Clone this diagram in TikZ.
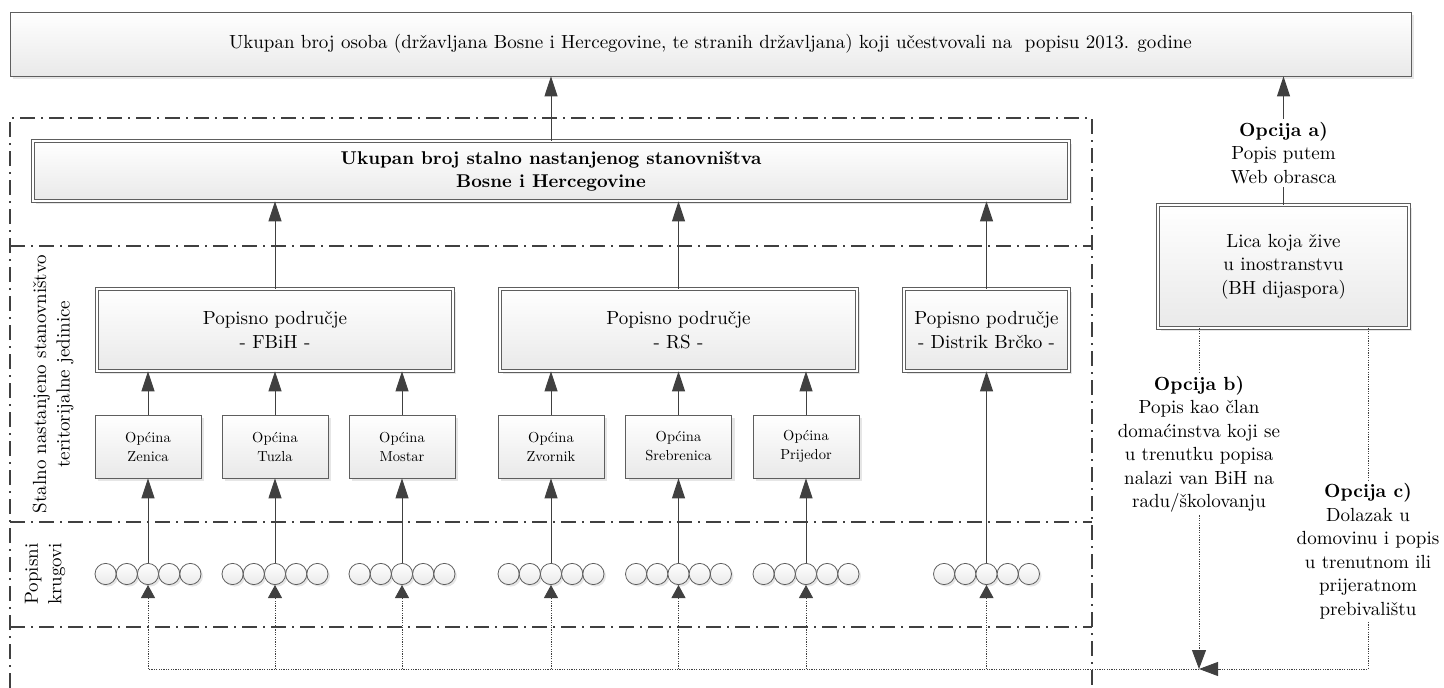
\documentclass[tikz,border=0pt]{standalone}
\usepackage{fontspec}
\setmainfont{lmroman10-regular.otf}[BoldFont=lmroman10-bold.otf]
\usepackage{tikz}
\usetikzlibrary{arrows.meta,shadows}

\definecolor{linija}{HTML}{404040}
\definecolor{okvir}{HTML}{5E5E5E}
\definecolor{sjena}{HTML}{E9E9E9}

\tikzset{
	kutija/.style={draw=okvir, line width=0.8pt, top color=white, bottom color=sjena,
		align=center, inner sep=2pt,
		drop shadow={opacity=0.2, shadow xshift=3pt, shadow yshift=-3pt},
		font=\fontsize{19}{23.5}\selectfont},
	dkutija/.style={kutija, double=white, double distance=2.6pt},
	opcina/.style={kutija, minimum width=106pt, minimum height=63pt,
		font=\fontsize{14.5}{19}\selectfont},
	krug/.style={circle, draw=okvir, line width=0.8pt, top color=white, bottom color=sjena,
		minimum size=21.2pt, inner sep=0pt,
		drop shadow={opacity=0.2, shadow xshift=2pt, shadow yshift=-2pt}},
	strelica/.style={draw=linija, line width=1pt, -{Triangle[length=20pt,width=13pt]}},
	tockice/.style={draw=linija, line width=0.9pt, dash pattern=on 1.2pt off 1.2pt},
	tstrelica/.style={tockice, -{Triangle[length=13pt,width=14pt]}},
	bstrelica/.style={tockice, -{Triangle[length=19pt,width=14pt]}},
	zona/.style={draw=linija, line width=1.8pt, dash pattern=on 15pt off 6pt on 2pt off 6pt},
	natpis/.style={align=center, inner sep=3pt, font=\fontsize{19}{23.5}\selectfont},
}

\begin{document}
\begin{tikzpicture}[x=1pt, y=-1pt]

% parameters %{{{2

	\def\krugy{574}
	\def\krugd{21.2}
	\def\donjay{669}

	\useasboundingbox (0,0) rectangle (1444,688);

% zones %{{{2

	\draw[zona] (10,688) -- (10,118) -- (1092,118) -- (1092,688);
	\foreach \y in {246,522,627} { \draw[zona] (10,\y) -- (1092,\y); }

	\node[natpis, rotate=90] (lstalno) at (53,384)
		{Stalno nastanjeno stanovništvo\\teritorijalne jedinice};
	\node[natpis, rotate=90] (lkrugovi) at (45,574) {Popisni\\krugovi};

% top boxes %{{{2

	\node[kutija, minimum width=1401pt, minimum height=64pt] (ukupno) at (710.5,44)
		{Ukupan broj osoba (državljana Bosne i Hercegovine, te stranih državljana) koji učestvovali na\ \ popisu 2013. godine};

	\node[dkutija, minimum width=1036pt, minimum height=60pt, font=\fontsize{18.5}{23}\selectfont\bfseries]
		(stalno) at (551,171)
		{Ukupan broj stalno nastanjenog stanovništva\\Bosne i Hercegovine};

	\node[dkutija, minimum width=251pt, minimum height=123pt] (lica) at (1283.5,266.5)
		{Lica koja žive\\u inostranstvu\\(BH dijaspora)};

% popisna podrucja %{{{2

	\node[dkutija, minimum width=356pt, minimum height=82pt] (fbih) at (275,330)
		{Popisno područje\\- FBiH -};
	\node[dkutija, minimum width=357pt, minimum height=82pt] (rs) at (678.5,330)
		{Popisno područje\\- RS -};
	\node[dkutija, minimum width=165pt, minimum height=82pt] (brcko) at (986.5,330)
		{Popisno područje\\- Distrik Brčko -};

% opcine %{{{2

	\foreach \x/\ime [count=\i] in {148/Zenica,275/Tuzla,402/Mostar,
		551/Zvornik,678.5/Srebrenica,806/Prijedor} {
		\node[opcina] (o\i) at (\x,446.5) {Općina\\\ime};
	}

% popisni krugovi %{{{2

	\foreach \x [count=\i] in {148,275,402,551,678.5,806,986.5} {
		\foreach \j in {1,...,5} {
			\node[krug] (k\i-\j) at ({\x+(\j-3)*\krugd},\krugy) {};
		}
		\coordinate (d\i) at (\x,\donjay);
	}

% arrows %{{{2

	\foreach \i in {1,...,6} { \draw[strelica] (k\i-3.north) -- (o\i.south); }
	\foreach \i in {1,2,3} { \draw[strelica] (o\i.north) -- (o\i.north |- fbih.south); }
	\foreach \i in {4,5,6} { \draw[strelica] (o\i.north) -- (o\i.north |- rs.south); }
	\draw[strelica] (k7-3.north) -- (brcko.south);

	\draw[strelica] (fbih.north) -- (fbih.north |- stalno.south);
	\draw[strelica] (rs.north) -- (rs.north |- stalno.south);
	\draw[strelica] (brcko.north) -- (brcko.north |- stalno.south);
	\draw[strelica] (stalno.north) -- (stalno.north |- ukupno.south);

% opcije %{{{2

	\node[natpis] (opta) at (1283.5,153)
		{\textbf{Opcija a)}\\Popis putem\\Web obrasca};
	\node[natpis] (optb) at (1199,444)
		{\textbf{Opcija b)}\\Popis kao član\\domaćinstva koji se\\u trenutku popisa\\nalazi van BiH na\\radu/školovanju};
	\node[natpis] (optc) at (1368,551)
		{\textbf{Opcija c)}\\Dolazak u\\domovinu i popis\\u trenutnom ili\\prijeratnom\\prebivalištu};

	\coordinate (J) at (1199,\donjay);

	\draw[draw=linija, line width=1pt] (lica.north) -- (opta.south);
	\draw[strelica] (opta.north) -- (opta.north |- ukupno.south);

	\draw[tockice] (lica.south -| optb) -- (optb.north);
	\draw[bstrelica] (optb.south) -- (J);
	\draw[tockice] (lica.south -| optc) -- (optc.north);
	\draw[bstrelica] (optc.south) -- (optc.south |- J) -- (J);

% popis dotted lines %{{{2

	\draw[tockice] (J) -- (d1);
	\foreach \i in {1,...,7} { \draw[tstrelica] (d\i) -- (k\i-3.south); }

% closing %{{{2

\end{tikzpicture}
\end{document}
